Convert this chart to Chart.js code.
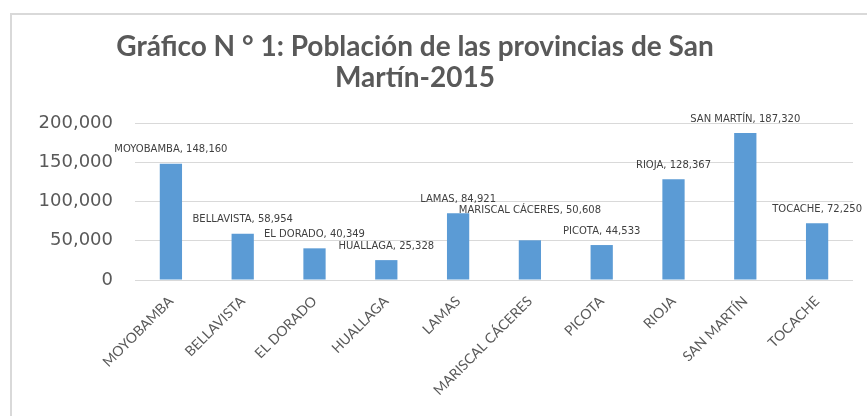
<!DOCTYPE html>
<html>
<head>
<meta charset="utf-8">
<script src="https://cdn.jsdelivr.net/npm/chart.js@4/dist/chart.umd.min.js"></script>
<style>
  body { margin: 0; background: #fff; overflow: hidden; }
  #wrap { position: relative; width: 867px; height: 416px; }
  #frame { position: absolute; left: 10px; top: 13px; width: 900px; height: 450px; border: 2px solid #d9d9d9; }
  canvas { position: absolute; left: 0; top: 0; }
</style>
</head>
<body>
<div id="wrap">
  <div id="frame"></div>
  <canvas id="popChart" width="867" height="416"></canvas>
</div>
<script>
const titleLines = ['Gráfico N ° 1: Población de las provincias de San', 'Martín-2015'];
const provinces = ['MOYOBAMBA', 'BELLAVISTA', 'EL DORADO', 'HUALLAGA', 'LAMAS',
  'MARISCAL CÁCERES', 'PICOTA', 'RIOJA', 'SAN MARTÍN', 'TOCACHE'];
const population = [148160, 58954, 40349, 25328, 84921, 50608, 44533, 128367, 187320, 72250];
const yTicks = [0, 50000, 100000, 150000, 200000];

// titulo en dos lineas, centrado como en el original
const chartTitle = {
  id: 'chartTitle',
  beforeDraw(chart) {
    const ctx = chart.ctx;
    ctx.save();
    ctx.font = 'bold 28px Lato';
    ctx.fillStyle = '#595959';
    ctx.textAlign = 'center';
    ctx.textBaseline = 'middle';
    titleLines.forEach((line, i) => ctx.fillText(line, 415, 47 + i * 31));
    ctx.restore();
  }
};

// etiquetas "NOMBRE, valor" encima de cada barra
const barLabels = {
  id: 'barLabels',
  afterDatasetsDraw(chart) {
    const ctx = chart.ctx;
    const meta = chart.getDatasetMeta(0);
    ctx.save();
    ctx.font = '10px "DejaVu Sans"';
    ctx.fillStyle = '#404040';
    ctx.textAlign = 'center';
    ctx.textBaseline = 'middle';
    const items = meta.data.map((bar, i) => {
      const txt = provinces[i] + ', ' + population[i].toLocaleString('en-US');
      const w = ctx.measureText(txt).width;
      return { txt, x: bar.x, y: bar.y - 14, w };
    });
    // si dos etiquetas vecinas se pisan, subir la de arriba
    for (let i = items.length - 2; i >= 0; i--) {
      const a = items[i], b = items[i + 1];
      const overlapX = Math.abs(a.x - b.x) < (a.w + b.w) / 2;
      if (overlapX && Math.abs(a.y - b.y) < 10) {
        if (a.y <= b.y) a.y = b.y - 21; else b.y = a.y - 21;
      }
    }
    items.forEach(it => ctx.fillText(it.txt, it.x, it.y));
    ctx.restore();
  }
};

new Chart(document.getElementById('popChart'), {
  type: 'bar',
  data: {
    labels: provinces,
    datasets: [{
      data: population,
      backgroundColor: '#5b9bd5',
      barPercentage: 0.31,
      categoryPercentage: 1
    }]
  },
  options: {
    responsive: false,
    animation: false,
    layout: { padding: { left: 0, right: 14, top: 123, bottom: 0 } },
    plugins: {
      legend: { display: false },
      tooltip: { enabled: false },
      title: { display: false }
    },
    scales: {
      x: {
        grid: { display: false },
        border: { display: false },
        ticks: {
          color: '#595959',
          font: { family: 'Lato', size: 14 },
          minRotation: 45,
          maxRotation: 45,
          padding: 5
        },
        afterFit(scale) { scale.height = 136; }
      },
      y: {
        min: 0,
        max: 200000,
        afterBuildTicks(scale) { scale.ticks = yTicks.map(v => ({ value: v })); },
        grid: { color: '#d9d9d9', drawTicks: false, lineWidth: 1 },
        border: { display: false },
        ticks: {
          color: '#595959',
          font: { family: 'DejaVu Sans', size: 18 },
          padding: 22,
          callback: v => v.toLocaleString('en-US')
        },
        afterFit(scale) { scale.width = 135; }
      }
    }
  },
  plugins: [chartTitle, barLabels]
});
</script>
</body>
</html>
